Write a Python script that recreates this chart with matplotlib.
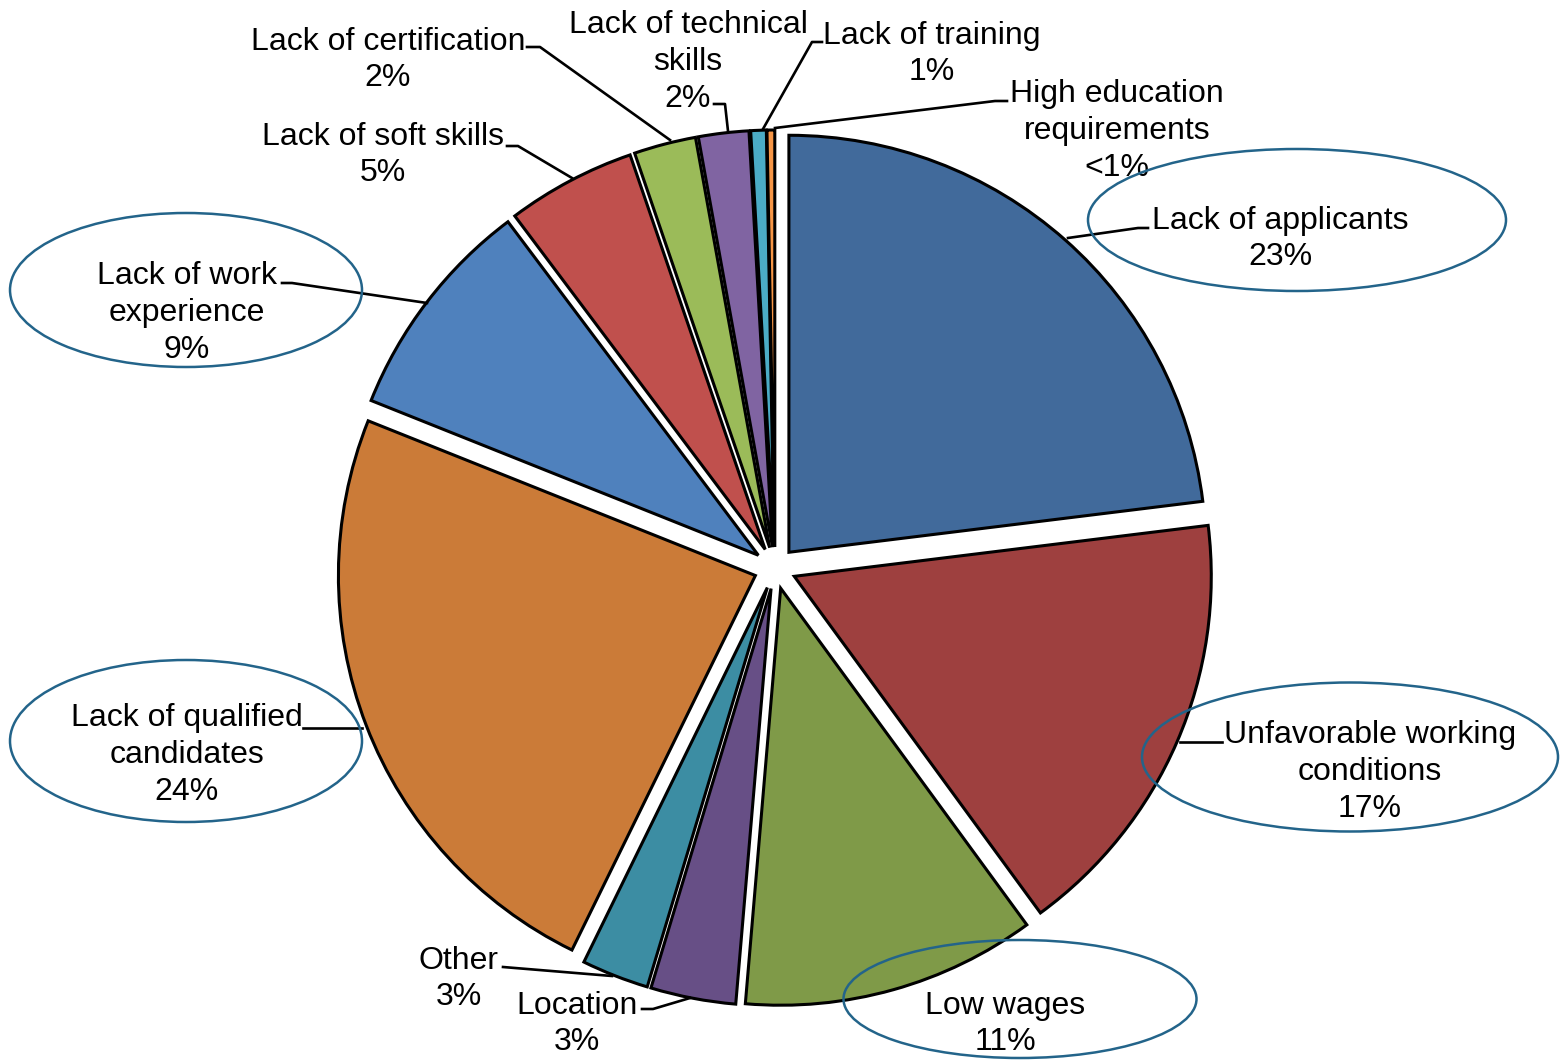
import matplotlib.pyplot as plt
from matplotlib.patches import Ellipse

# Reasons given for hiring difficulties (share of responses, %)
reasons = ["Lack of applicants", "Unfavorable working\nconditions", "Low wages",
           "Location", "Other", "Lack of qualified\ncandidates",
           "Lack of work\nexperience", "Lack of soft skills",
           "Lack of certification", "Lack of technical\nskills",
           "Lack of training", "High education\nrequirements"]
shares = [23.05, 16.9, 11.4, 3.3, 2.6, 23.8, 8.7, 5.0, 2.4, 1.95, 0.6, 0.3]
colors = ["#416A9B", "#9E403F", "#7F9A48", "#674F86", "#3C8DA3", "#CB7B38",
          "#4F81BD", "#C0504D", "#9BBB59", "#8064A2", "#4BACC6", "#F79646"]

# label block centres and leader lines, in pixel coords (y down)
label_xy = [(1280, 239), (1370, 772), (1005, 1024), (577, 1024), (459, 979),
            (187, 755), (187, 313), (383, 155), (388, 60), (688, 62),
            (932, 54), (1117, 131)]
leaders = [
    [(1148, 228), (1138, 228), (1068, 238)],
    [(1222, 742), (1180, 742)],
    None,
    [(642, 1009), (653, 1009), (690, 998)],
    [(503, 967), (515, 968), (612, 976)],
    [(303, 728), (362, 728)],
    [(282, 283), (292, 283), (427, 303)],
    [(507, 146), (518, 146), (572, 178)],
    [(527, 47), (540, 47), (670, 140)],
    [(714, 104), (725, 104), (728, 131)],
    [(822, 42), (812, 42), (763, 129)],
    [(1007, 101), (995, 101), (775, 128)],
]
# circled categories: (centre, width, height)
circled = [((1297, 220), 418, 142), ((1350, 757), 416, 149),
           ((1020, 999), 353, 118), ((186, 741), 352, 162),
           ((186, 290), 352, 154)]


def pct_text(v):
    return "<1%" if v < 0.5 else f"{round(v)}%"


fig = plt.figure(figsize=(15.6, 10.61), dpi=100)
ax = fig.add_axes([0, 0, 1, 1])

# y axis runs downwards, so the pie goes "counter-clockwise" from -90
ax.pie(shares, colors=colors, radius=417, center=(775, 568),
       startangle=-90, counterclock=True, explode=[21] * len(shares),
       wedgeprops=dict(edgecolor="black", linewidth=2.2))

ax.set_xlim(0, 1560)
ax.set_ylim(1061, 0)
ax.set_aspect("equal")
ax.axis("off")

for name, v, (x, y) in zip(reasons, shares, label_xy):
    ax.text(x, y, f"{name}\n{pct_text(v)}", ha="center", va="center",
            fontsize=23, family="Liberation Sans", linespacing=1.3,
            multialignment="center", zorder=5)

for pts in leaders:
    if pts:
        xs, ys = zip(*pts)
        ax.plot(xs, ys, color="black", lw=1.9, zorder=4)

for (cx, cy), w, h in circled:
    ax.add_patch(Ellipse((cx, cy), w, h, fill=False, edgecolor="#23648A",
                         lw=1.8, zorder=6))

fig.savefig("out.png", dpi=100)
